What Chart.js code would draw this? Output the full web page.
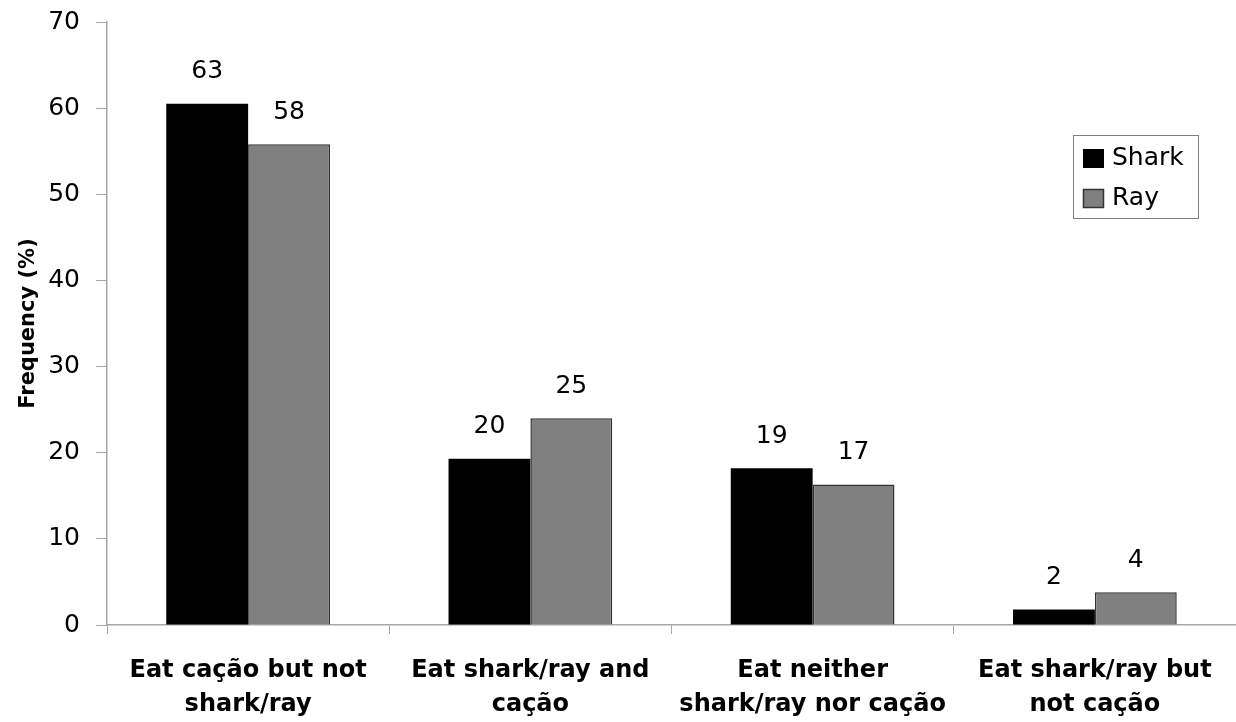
<!DOCTYPE html>
<html>
<head>
<meta charset="utf-8">
<script src="https://cdn.jsdelivr.net/npm/chart.js@4"></script>
<style>
  html, body { margin: 0; padding: 0; background: #fff; }
  #wrap { width: 1236px; height: 722px; }
</style>
</head>
<body>
<div id="wrap"><canvas id="chart-freq"></canvas></div>
<script>
// categories (multi-line labels like the original)
const categorias = [
  ["Eat cação but not", "shark/ray"],
  ["Eat shark/ray and", "cação"],
  ["Eat neither", "shark/ray nor cação"],
  ["Eat shark/ray but", "not cação"]
]
// bar heights
const tiburon = [60.5, 19.3, 18.2, 1.8]
const raya = [55.8, 24.0, 16.3, 3.8]
// the numbers printed over the bars
const etiquetasTiburon = ["63", "20", "19", "2"]
const etiquetasRaya = ["58", "25", "17", "4"]
const ticksY = [0, 10, 20, 30, 40, 50, 60, 70]

const fuente = "'DejaVu Sans', sans-serif"
const gris = '#a6a6a6'

// numbers over bars
const etiquetasPlugin = {
  id: 'etiquetas',
  afterDatasetsDraw(chart) {
    const ctx = chart.ctx
    const textos = [etiquetasTiburon, etiquetasRaya]
    ctx.save()
    ctx.font = '25px ' + fuente
    ctx.fillStyle = '#000'
    ctx.textAlign = 'center'
    ctx.textBaseline = 'middle'
    chart.data.datasets.forEach((ds, i) => {
      chart.getDatasetMeta(i).data.forEach((bar, j) => {
        ctx.fillText(textos[i][j], bar.x, bar.y - 32)
      })
    })
    ctx.restore()
  }
}

// boxed legend inside the plot
const leyendaPlugin = {
  id: 'leyenda',
  afterDraw(chart) {
    const ctx = chart.ctx
    ctx.save()
    ctx.strokeStyle = '#7f7f7f'
    ctx.lineWidth = 1
    ctx.strokeRect(1073.5, 135.5, 125, 83)
    ctx.font = '25px ' + fuente
    ctx.textBaseline = 'middle'
    chart.data.datasets.forEach((ds, i) => {
      const y = 149 + i * 40
      ctx.fillStyle = ds.backgroundColor
      ctx.fillRect(1083, y, 21, 19)
      if (ds.borderWidth) {
        ctx.strokeStyle = ds.borderColor
        ctx.lineWidth = 1.5
        ctx.strokeRect(1083.5, y + 0.5, 20, 18)
      }
      ctx.fillStyle = '#000'
      ctx.fillText(ds.label, 1112, y + 9.5)
    })
    ctx.restore()
  }
}

const ctx = document.getElementById('chart-freq').getContext('2d')

let graficoFrecuencia = new Chart(ctx, {
  type: 'bar',
  data: {
    labels: categorias,
    datasets: [{
      label: 'Shark',
      data: tiburon,
      backgroundColor: '#000000',
      borderColor: '#000000',
      borderWidth: 0
    }, {
      label: 'Ray',
      data: raya,
      backgroundColor: '#808080',
      borderColor: '#333333',
      borderWidth: 1.5
    }]
  },
  options: {
    responsive: true,
    maintainAspectRatio: false,
    animation: false,
    layout: { padding: { top: 22, left: 0, right: 0, bottom: 0 } },
    plugins: {
      legend: { display: false },
      tooltip: { enabled: false }
    },
    datasets: {
      bar: { categoryPercentage: 0.58, barPercentage: 1 }
    },
    scales: {
      x: {
        grid: { drawOnChartArea: false, color: gris, tickLength: 9, offset: true },
        border: { color: gris, width: 1.5 },
        ticks: {
          color: '#000',
          font: { family: fuente, size: 24, weight: 'bold', lineHeight: 1.45 },
          maxRotation: 0,
          autoSkip: false,
          padding: 19
        },
        afterFit(scale) { scale.height = 97 }
      },
      y: {
        min: 0,
        max: 70,
        afterBuildTicks(scale) { scale.ticks = ticksY.map(v => ({ value: v })) },
        grid: { drawOnChartArea: false, color: gris, tickLength: 11 },
        border: { color: gris, width: 1.5 },
        ticks: {
          color: '#000',
          font: { family: fuente, size: 25, lineHeight: 0.6 },
          padding: 16
        },
        title: {
          display: true,
          text: 'Frequency (%)',
          color: '#000',
          font: { family: fuente, size: 21, weight: 'bold' },
          padding: { top: 16, bottom: 0 }
        },
        afterFit(scale) {
          scale.width = 107
          scale.paddingTop = 0
          scale.paddingBottom = 0
        }
      }
    }
  },
  plugins: [etiquetasPlugin, leyendaPlugin]
})
</script>
</body>
</html>
